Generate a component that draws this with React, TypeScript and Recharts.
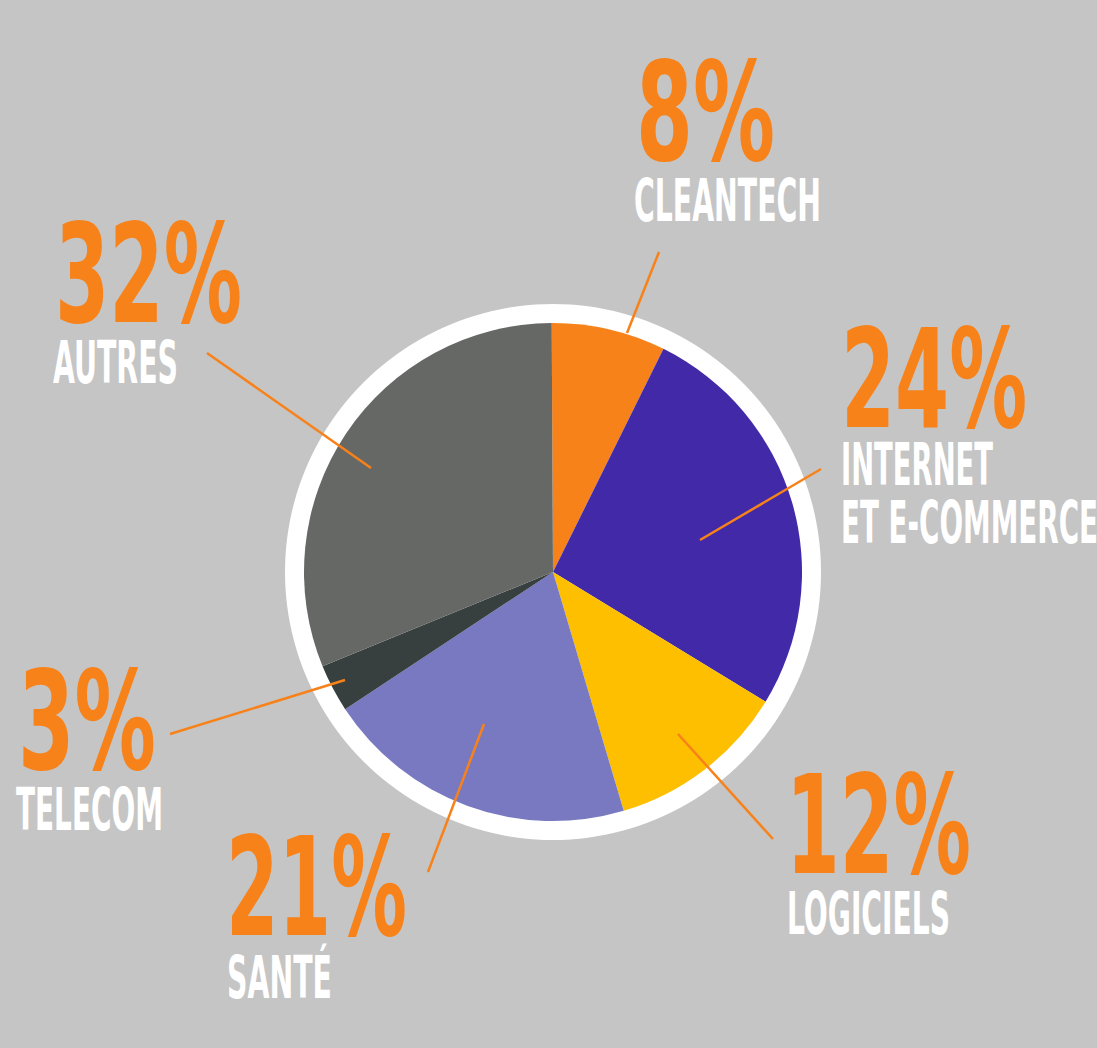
import React from 'react';
import { PieChart, Pie, Cell } from 'recharts';

// slice shares as drawn (clockwise from 12 o'clock)
const sectors = ['CLEANTECH', 'INTERNET ET E-COMMERCE', 'LOGICIELS', 'SANTÉ', 'TELECOM', 'AUTRES'];
const shares = [7.4, 26.4, 11.7, 20.3, 3.1, 31.1];
const percentLabels = ['8%', '24%', '12%', '21%', '3%', '32%'];
const nameLines = [['CLEANTECH'], ['INTERNET', 'ET E-COMMERCE'], ['LOGICIELS'], ['SANTÉ'], ['TELECOM'], ['AUTRES']];

const COLORS = ['#f8821a', '#4129a7', '#fdbf00', '#7879c1', '#373f3f', '#666866'];
const ORANGE = '#f8821a';
const BG = '#c5c5c5';
const FONT = "'Liberation Sans Narrow', 'DejaVu Sans Condensed', 'Roboto', sans-serif";

// label layout, offsets from the pie centre
type LabelLayout = {
  num: [number, number, number];
  names: [number, number, number][];
  leader: [number, number, number, number];
};

const LAYOUT: LabelLayout[] = [
  { num: [83, -412, 139], names: [[81, -351, 187]], leader: [74, -239, 106, -320] },
  { num: [288, -145, 186], names: [[288, -87, 152], [288, -29, 257]], leader: [147, -32, 268, -103] },
  { num: [233, 301, 185], names: [[234, 362, 163]], leader: [125, 162, 220, 267] },
  { num: [-327, 363, 181], names: [[-326, 426, 105]], leader: [-69, 152, -125, 300] },
  { num: [-535, 197, 138], names: [[-537, 258, 147]], leader: [-208, 108, -383, 162] },
  { num: [-498, -250, 187], names: [[-500, -189, 125]], leader: [-182, -104, -346, -219] },
];

const data = sectors.map((name, i) => ({ name, value: shares[i] }));
const ring = [{ name: 'ring', value: 1 }];

const renderLabel = (props: any) => {
  const { cx, cy, index } = props;
  const l = LAYOUT[index];
  const [x1, y1, x2, y2] = l.leader;
  return (
    <g key={`lbl-${index}`}>
      <line x1={cx + x1} y1={cy + y1} x2={cx + x2} y2={cy + y2} stroke={ORANGE} strokeWidth={2.5} />
      <text
        x={cx + l.num[0]}
        y={cy + l.num[1]}
        fill={ORANGE}
        fontFamily={FONT}
        fontWeight={700}
        fontSize={137}
        textLength={l.num[2]}
        lengthAdjust="spacingAndGlyphs"
      >
        {percentLabels[index]}
      </text>
      {nameLines[index].map((t, j) => (
        <text
          key={j}
          x={cx + l.names[j][0]}
          y={cy + l.names[j][1]}
          fill="#ffffff"
          fontFamily={FONT}
          fontWeight={700}
          fontSize={58}
          textLength={l.names[j][2]}
          lengthAdjust="spacingAndGlyphs"
        >
          {t}
        </text>
      ))}
    </g>
  );
};

export default function App() {
  return (
    <div style={{ width: 1097, height: 1048, background: BG, overflow: 'hidden' }}>
      <style>{'body{margin:0;}'}</style>
      <PieChart width={1097} height={1048} margin={{ top: 0, right: 0, bottom: 0, left: 0 }}>
        <Pie
          data={ring}
          dataKey="value"
          cx={553}
          cy={572}
          outerRadius={268}
          fill="#ffffff"
          stroke="none"
          isAnimationActive={false}
        />
        <Pie
          data={data}
          dataKey="value"
          cx={553}
          cy={572}
          outerRadius={249}
          startAngle={90.3}
          endAngle={-269.7}
          stroke="none"
          label={renderLabel}
          labelLine={false}
          isAnimationActive={false}
        >
          {data.map((d, i) => (
            <Cell key={d.name} fill={COLORS[i]} />
          ))}
        </Pie>
      </PieChart>
    </div>
  );
}
